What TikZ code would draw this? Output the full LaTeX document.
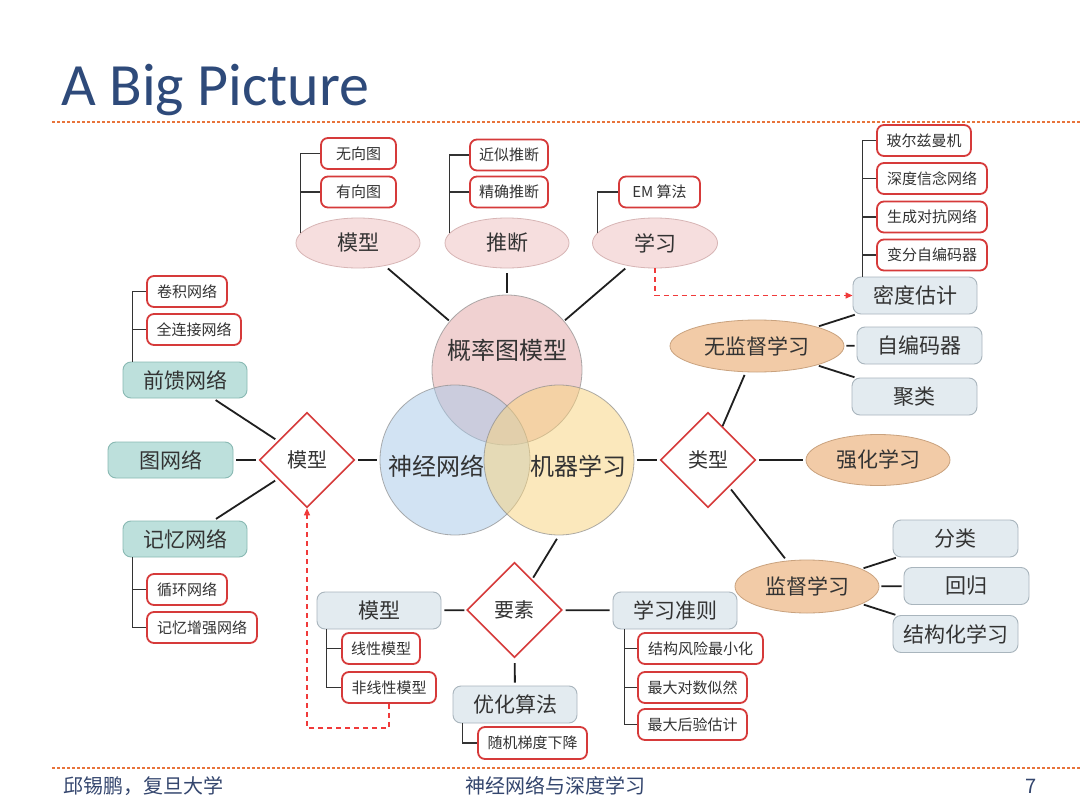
\documentclass[tikz,border=0pt]{standalone}
\usepackage{fontspec}
\setmainfont{Noto Sans CJK SC}
\newfontfamily\titlefont{Carlito}
\usetikzlibrary{shapes.geometric,arrows.meta}
\definecolor{txtc}{HTML}{333333}
\definecolor{titlec}{HTML}{2E4A7A}
\definecolor{footc}{HTML}{34466E}
\definecolor{dashc}{HTML}{E8743B}
\definecolor{redc}{HTML}{D63A3A}
\definecolor{arrc}{HTML}{F03A3A}
\definecolor{greyf}{HTML}{E3EBF0}
\definecolor{greyb}{HTML}{A9B5BD}
\definecolor{tealf}{HTML}{BDE0DC}
\definecolor{tealb}{HTML}{89B9B3}
\definecolor{pinkf}{HTML}{F6DEDE}
\definecolor{pinkb}{HTML}{D7B5B5}
\definecolor{orf}{HTML}{F2CBA7}
\definecolor{orb}{HTML}{C9A27E}
\definecolor{cpink}{HTML}{E3A5A5}
\definecolor{cblue}{HTML}{A7C9E9}
\definecolor{cyel}{HTML}{F9D37B}
\newcommand{\myBigF}{\fontsize{21}{21}\selectfont}
\newcommand{\mySmF}{\fontsize{15}{15}\selectfont}
\newcommand{\myCirF}{\fontsize{24}{24}\selectfont}
\newcommand{\myDiaF}{\fontsize{20}{20}\selectfont}
\begin{document}
\begin{tikzpicture}[x=1pt,y=-1pt,
  redbox/.style={draw=redc, line width=1.8pt, rounded corners=7pt, fill=white, minimum height=31pt, inner sep=0pt, font=\mySmF, text=txtc},
  greybox/.style={draw=greyb, line width=0.9pt, rounded corners=8pt, fill=greyf, minimum height=37pt, minimum width=124pt, inner sep=0pt, font=\myBigF, text=txtc},
  tealbox/.style={greybox, draw=tealb, fill=tealf, minimum height=36pt},
  pinkell/.style={ellipse, draw=pinkb, line width=0.8pt, fill=pinkf, minimum width=124pt, minimum height=50pt, inner sep=0pt, font=\myBigF, text=txtc},
  orell/.style={ellipse, draw=orb, line width=0.8pt, fill=orf, inner sep=0pt, font=\myBigF, text=txtc},
  dia/.style={diamond, draw=redc, line width=1.6pt, fill=white, minimum width=95pt, minimum height=95pt, inner sep=0pt, font=\myDiaF, text=txtc},
  venn/.style={circle, minimum size=150pt, inner sep=0pt, draw=black!45, line width=0.8pt, fill opacity=0.5, draw opacity=0.7},
  conn/.style={draw=black!88, line width=1.8pt, shorten <=3pt, shorten >=3pt},
  brk/.style={draw=black!80, line width=1.5pt},
  redarr/.style={draw=arrc, line width=1.3pt, dash pattern=on 5pt off 4pt, -{Triangle[length=7pt,width=6pt]}},
  lbl/.style={inner sep=0pt, text=txtc}
]
\fill[white] (0,0) rectangle (1080,811);
\useasboundingbox (0,0) rectangle (1080,811);

% title and rules
\node[anchor=base west, inner sep=0pt, text=titlec, font=\titlefont\fontsize{60}{60}\selectfont] (title) at (61,105) {A Big Picture};
\draw[dashc, line width=1.2pt, dash pattern=on 3pt off 2pt] (52,122) -- (1080,122);
\draw[dashc, line width=1.2pt, dash pattern=on 3pt off 2pt] (52,768) -- (1080,768);
\node[anchor=west, inner sep=0pt, text=footc, font=\fontsize{20}{20}\selectfont] (f1) at (63,786) {邱锡鹏，复旦大学};
\node[inner sep=0pt, text=footc, font=\fontsize{20}{20}\selectfont] (f2) at (555,786) {神经网络与深度学习};
\node[inner sep=0pt, text=footc, font=\fontsize{20}{20}\selectfont] (f3) at (1031,786) {7};

% Venn circles
\node[venn, fill=cpink] (pgm) at (507,370) {};
\node[venn, fill=cblue] (nn) at (455,460) {};
\node[venn, fill=cyel] (ml) at (559,460) {};
\node[lbl, font=\myCirF] (pgmt) at (507,350) {概率图模型};
\node[lbl, font=\myCirF] (nnt) at (436,466) {神经网络};
\node[lbl, font=\myCirF] (mlt) at (578,466) {机器学习};

% top: probabilistic graphical models
\node[pinkell] (e1) at (358,243) {模型};
\node[pinkell] (e2) at (507,243) {推断};
\node[pinkell, minimum width=125pt] (e3) at (655,243) {学习};
\node[redbox, minimum width=75pt] (wx) at (358.5,153.5) {无向图};
\node[redbox, minimum width=75pt] (yx) at (358.5,192) {有向图};
\node[redbox, minimum width=78pt] (js) at (509,155) {近似推断};
\node[redbox, minimum width=78pt] (jq) at (509,192) {精确推断};
\node[redbox, minimum width=81pt] (em) at (659.5,192) {EM 算法};
\draw[brk] (e1.170) |- (wx.west);
\draw[brk] (e1.170) |- (yx.west);
\draw[brk] (e2.170) |- (js.west);
\draw[brk] (e2.170) |- (jq.west);
\draw[brk] (e3.170) |- (em.west);
\draw[conn, shorten <=4pt, shorten >=1pt] (e1) -- (pgm);
\draw[conn, shorten <=5pt, shorten >=2pt] (e2) -- (pgm);
\draw[conn, shorten <=4pt, shorten >=1pt] (e3) -- (pgm);

% right: machine learning types
\node[greybox] (dens) at (915,295.5) {密度估计};
\node[redbox, minimum width=94pt] (bm) at (924,140.5) {玻尔兹曼机};
\node[redbox, minimum width=110pt] (dbn) at (932,178.5) {深度信念网络};
\node[redbox, minimum width=110pt] (gan) at (932,217) {生成对抗网络};
\node[redbox, minimum width=110pt] (vae) at (932,255) {变分自编码器};
\draw[brk] ([xshift=10pt]dens.north west) |- (bm.west);
\draw[brk] ([xshift=10pt]dens.north west) |- (dbn.west);
\draw[brk] ([xshift=10pt]dens.north west) |- (gan.west);
\draw[brk] ([xshift=10pt]dens.north west) |- (vae.west);
\draw[redarr] (e3.south) |- (dens.west);

\node[orell, minimum width=174pt, minimum height=52pt] (uns) at (757,346) {无监督学习};
\node[greybox, minimum width=125pt] (ae) at (919.5,345.5) {自编码器};
\node[greybox, minimum width=125pt] (clu) at (914.5,396.5) {聚类};
\draw[conn, shorten <=2pt, shorten >=1pt] (uns) -- (dens);
\draw[conn, shorten <=2pt, shorten >=2pt] (uns) -- (ae);
\draw[conn, shorten <=2pt, shorten >=1pt] (uns) -- (clu);

\node[dia] (typ) at (708,460) {类型};
\node[orell, minimum width=144pt, minimum height=51pt] (rl) at (878,460) {强化学习};
\node[orell, minimum width=144pt, minimum height=53pt] (sup) at (807,586.5) {监督学习};
\node[greybox, minimum width=125pt] (cls) at (955.5,538.5) {分类};
\node[greybox, minimum width=125pt] (reg) at (966.5,586) {回归};
\node[greybox, minimum width=125pt] (st) at (955.5,634) {结构化学习};
\draw[conn] (ml) -- (typ);
\draw[conn, shorten <=0pt] (typ) -- (uns);
\draw[conn] (typ) -- (rl);
\draw[conn] (typ) -- (sup);
\draw[conn, shorten <=2pt, shorten >=1pt] (sup) -- (cls);
\draw[conn, shorten <=2pt, shorten >=2pt] (sup) -- (reg);
\draw[conn, shorten <=2pt, shorten >=1pt] (sup) -- (st);

% left: neural network models
\node[dia] (ldia) at (307,460) {模型};
\node[tealbox] (ff) at (185,380) {前馈网络};
\node[tealbox, minimum width=125pt] (gn) at (170.5,460) {图网络};
\node[tealbox] (mem) at (185,539) {记忆网络};
\node[redbox, minimum width=80pt] (cnn) at (187,291.5) {卷积网络};
\node[redbox, minimum width=94pt] (fc) at (194,329.5) {全连接网络};
\node[redbox, minimum width=80pt] (rnn) at (187,589.5) {循环网络};
\node[redbox, minimum width=110pt] (mann) at (202,627.5) {记忆增强网络};
\draw[brk] ([xshift=10pt]ff.north west) |- (cnn.west);
\draw[brk] ([xshift=10pt]ff.north west) |- (fc.west);
\draw[brk] ([xshift=10pt]mem.south west) |- (rnn.west);
\draw[brk] ([xshift=10pt]mem.south west) |- (mann.west);
\draw[conn] (nn) -- (ldia);
\draw[conn] (ldia) -- (ff);
\draw[conn] (ldia) -- (gn);
\draw[conn] (ldia) -- (mem);

% bottom: elements
\node[dia] (ys) at (514.5,610) {要素};
\node[greybox] (bmod) at (379,610.5) {模型};
\node[redbox, minimum width=78pt] (lin) at (381,648.5) {线性模型};
\node[redbox, minimum width=94pt] (nlin) at (389,687.5) {非线性模型};
\node[greybox] (crit) at (675,610.5) {学习准则};
\node[redbox, minimum width=125pt] (srm) at (700.5,648.5) {结构风险最小化};
\node[redbox, minimum width=109pt] (mle) at (692.5,687.5) {最大对数似然};
\node[redbox, minimum width=109pt] (map) at (692.5,724.5) {最大后验估计};
\node[greybox] (opt) at (515,704.5) {优化算法};
\node[redbox, minimum width=109pt, minimum height=32pt] (sgd) at (532.5,743) {随机梯度下降};
\draw[brk] ([xshift=10pt]bmod.south west) |- (lin.west);
\draw[brk] ([xshift=10pt]bmod.south west) |- (nlin.west);
\draw[brk] ([xshift=12pt]crit.south west) |- (srm.west);
\draw[brk] ([xshift=12pt]crit.south west) |- (mle.west);
\draw[brk] ([xshift=12pt]crit.south west) |- (map.west);
\draw[brk] ([xshift=10pt]opt.south west) |- (sgd.west);
\draw[conn, shorten <=4pt, shorten >=2pt] (ml.south) -- (ys.60);
\draw[conn, shorten <=2pt] (ys) -- (bmod);
\draw[conn] (ys) -- (crit);
\draw[conn, shorten <=5pt] (ys) -- (opt);
\draw[redarr] (nlin.south) -- ++(0,24) -| (ldia.south);
\end{tikzpicture}
\end{document}
